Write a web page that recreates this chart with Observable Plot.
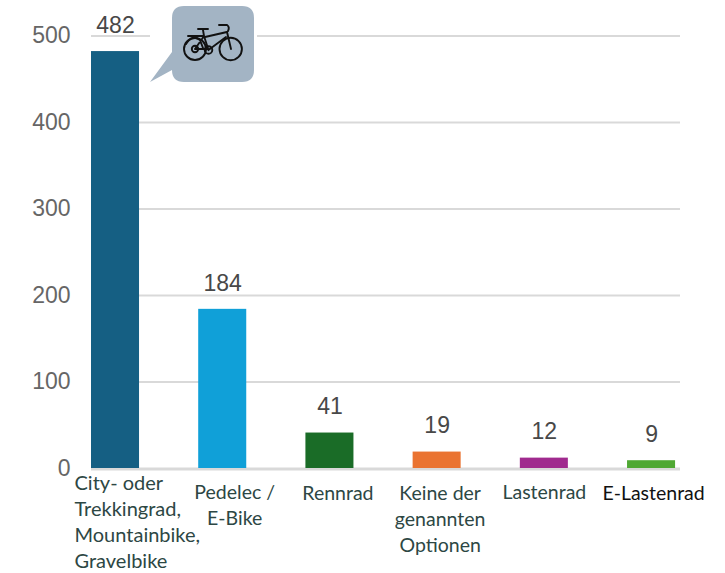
<!DOCTYPE html>
<html><head><meta charset="utf-8">
<script src="https://cdn.jsdelivr.net/npm/d3@7"></script>
<script src="https://cdn.jsdelivr.net/npm/@observablehq/plot@0.6"></script>
<style>html,body{margin:0;padding:0;background:#fff}svg{display:block}</style>
</head><body><div id="c"></div>
<script>
const categories = ["City- oder\nTrekkingrad,\nMountainbike,\nGravelbike","Pedelec /\nE-Bike","Rennrad","Keine der\ngenannten\nOptionen","Lastenrad","E-Lastenrad"];
const values = [482,184,41,19,12,9];
const colors = ["#155f83","#10a0d8","#1a6c27","#ea7331","#a02a8e","#4fa833"];
const yTicks = [0,100,200,300,400,500];
const labelStyles = [
  {dx:-41,dy:3,size:20,anchor:"start",fill:"#2d4744"},
  {dx:12,dy:12,size:19.5,anchor:"middle",fill:"#2d4744"},
  {dx:8,dy:13,size:19.5,anchor:"middle",fill:"#2d4744"},
  {dx:3,dy:13,size:19.5,anchor:"middle",fill:"#2d4744"},
  {dx:0,dy:12,size:19.5,anchor:"middle",fill:"#2d4744"},
  {dx:2,dy:13,size:19.5,anchor:"middle",fill:"#111"}
];
const rows = categories.map((c,i)=>({c,v:values[i],col:colors[i]}));
function callout(){
  const g = d3.create("svg:g");
  g.append("rect").attr("x",150).attr("y",30).attr("width",107).attr("height",12).attr("fill","#fff");
  g.append("path").attr("fill","#a3b4c4").attr("d","M184 6H242Q254 6 254 18V70Q254 82 242 82H184Q172 82 172 70L150 82L172 52V18Q172 6 184 6Z");
  const b = g.append("g").attr("fill","none").attr("stroke","#111").attr("stroke-width",1.9).attr("stroke-linecap","round");
  b.append("circle").attr("cx",195).attr("cy",49).attr("r",11);
  b.append("circle").attr("cx",230.7).attr("cy",49).attr("r",11.2);
  b.append("circle").attr("cx",195).attr("cy",49).attr("r",3.2);
  b.append("circle").attr("cx",208.5).attr("cy",50).attr("r",3.8);
  b.append("path").attr("d","M195 49L204 36L208.5 50L226 37M205 37L227 32L231 49M204 36L203 30M198 29H208M219 25H227Q230 27 228 31M188 36H203M186 44Q192 34 200 40L203 48M195 49H208.5");
  return g.node();
}
const plot = Plot.plot({
  width:725,height:573,marginTop:35.5,marginBottom:105,marginLeft:91,marginRight:45,
  style:{background:"#fff"},
  x:{domain:categories,paddingInner:0.552,paddingOuter:0.023,align:0,axis:null,round:false},
  y:{domain:[0,500],ticks:yTicks,label:null},
  marks:[
    Plot.ruleY(yTicks,{stroke:"#d9d9d9",strokeWidth:2}),
    Plot.axisY(yTicks,{anchor:"left",tickSize:0,tickPadding:21,label:null,fontSize:23,fontFamily:"Liberation Sans",fill:"#666"}),
    Plot.barY(rows,{x:"c",y:"v",fill:"col"}),
    Plot.ruleY([0],{stroke:"#d9d9d9",strokeWidth:2,dy:1}),
    Plot.text(rows,{x:"c",y:"v",text:d=>String(d.v),dy:-26,fontSize:23,fontFamily:"Liberation Sans",fill:"#484848"}),
    ...rows.map((r,i)=>Plot.text([r],{x:"c",y:()=>0,text:"c",dx:labelStyles[i].dx,dy:labelStyles[i].dy,textAnchor:labelStyles[i].anchor,lineAnchor:"top",lineHeight:26/labelStyles[i].size,fontSize:labelStyles[i].size,fontFamily:"Lato",fill:labelStyles[i].fill})),
    callout
  ]
});
document.getElementById("c").append(plot);
</script></body></html>
